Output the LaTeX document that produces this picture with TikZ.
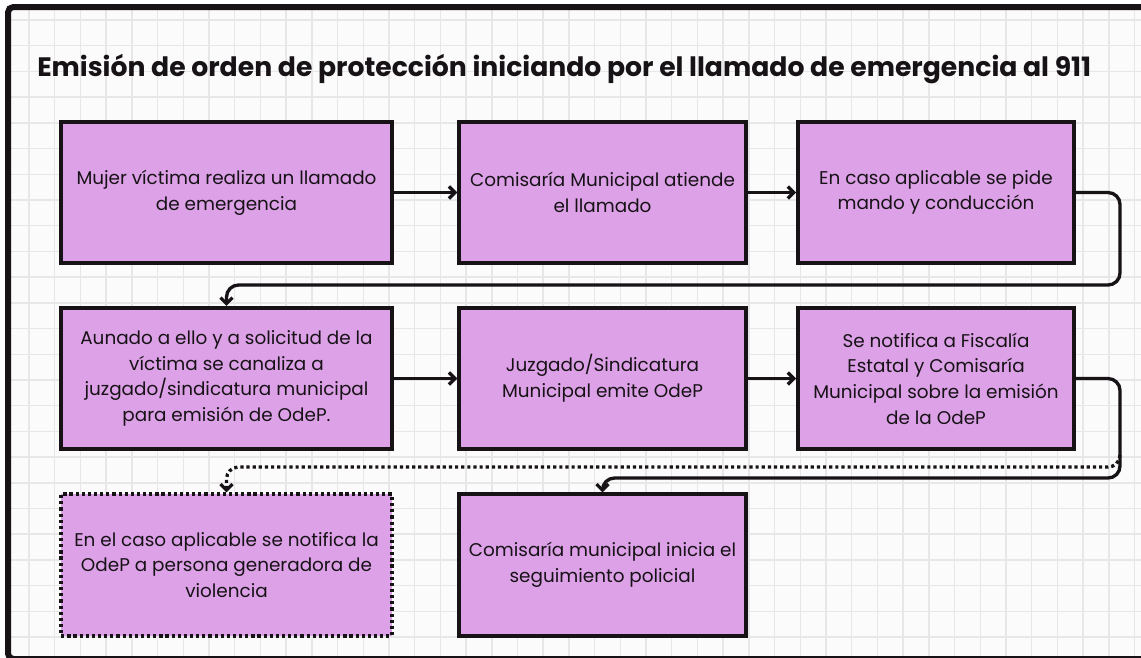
\documentclass[tikz,border=0pt]{standalone}
\usepackage{fontspec}
\setmainfont{Poppins}
\usetikzlibrary{positioning,arrows.meta,calc}
\definecolor{odepfill}{RGB}{221,161,231}
\definecolor{odepline}{RGB}{22,18,22}
\definecolor{odepgrid}{RGB}{231,231,231}
\definecolor{odeppaper}{RGB}{251,251,251}
\tikzset{
    odep step/.style={
        rectangle,
        fill=odepfill,
        draw=odepline,
        line width=2.8pt,
        minimum height=106pt,
        inner sep=0pt,
        align=center,
        text=odepline,
        font=\fontsize{13.8}{19.2}\selectfont
    },
    col one/.style={minimum width=248pt},
    col two/.style={minimum width=215pt},
    col three/.style={minimum width=207pt},
    odep dots/.style={dash pattern=on 2.4pt off 2.2pt},
    odep optional/.style={odep step, odep dots},
    odep arrow/.style={
        draw=odepline,
        line width=2.5pt,
        rounded corners=9pt,
        -{Straight Barb[length=4.5pt,width=9pt]}
    },
    odep grid/.style={draw=odepgrid, line width=1.1pt},
    odep frame/.style={draw=odepline, line width=4.5pt, rounded corners=4pt}
}

\begin{document}
\begin{tikzpicture}[x=0.75pt,y=-0.75pt]
    \useasboundingbox (0,0) rectangle (1141,657);
    %Paper with grid, cut by the frame
    \begin{scope}
        \clip[rounded corners=4pt] (8,7) rectangle (1200,659);
        \fill[odeppaper] (8,7) rectangle (1200,659);
        \foreach \i in {0,...,43} {
            \draw[odep grid] (29+25.71*\i,0) -- ++(0,700);
        }
        \foreach \j in {0,...,25} {
            \draw[odep grid] (0,20+25.71*\j) -- ++(1200,0);
        }
    \end{scope}
    \draw[odep frame] (8,7) rectangle (1200,659);

    \node[anchor=base west, inner sep=0pt, text=odepline, font=\bfseries\fontsize{20}{24}\selectfont] (title) at (37,76) {Emisión de orden de protección iniciando por el llamado de emergencia al 911};

    %First row
    \node[odep step, col one] (llamado) at (226.5,192.5) {Mujer víctima realiza un llamado\\de emergencia};
    \node[odep step, col two] (atiende) at (602.5,192.5) {Comisaría Municipal atiende\\el llamado};
    \node[odep step, col three] (mando) at (936,192.5) {En caso aplicable se pide\\mando y conducción};

    %Second row
    \node[odep step, col one] (aunado) at (226.5,378.5) {Aunado a ello y a solicitud de la\\víctima se canaliza a\\juzgado/sindicatura municipal\\para emisión de OdeP.};
    \node[odep step, col two] (emite) at (602.5,378.5) {Juzgado/Sindicatura\\Municipal emite OdeP};
    \node[odep step, col three] (notifica) at (936,378.5) {Se notifica a Fiscalía\\Estatal y Comisaría\\Municipal sobre la emisión\\de la OdeP};

    %Third row
    \node[odep optional, col one] (persona) at (226.5,565) {En el caso aplicable se notifica la\\OdeP a persona generadora de\\violencia};
    \node[odep step, col two] (seguimiento) at (602.5,565) {Comisaría municipal inicia el\\seguimiento policial};

    \draw[odep arrow] (llamado) -- (atiende);
    \draw[odep arrow] (atiende) -- (mando);
    \draw[odep arrow] (aunado) -- (emite);
    \draw[odep arrow] (emite) -- (notifica);

    \coordinate (bend1) at (1120,285);
    \coordinate (bend2) at (1120,478);
    \coordinate (split) at (1120,455);
    \coordinate (dotturn) at (600,467);
    \draw[odep arrow] (mando.east) -| (bend1) -| (aunado.north);
    \draw[odep arrow] (notifica.east) -| (bend2) -| (seguimiento.north);
    \draw[odep arrow, odep dots] (split) |- (dotturn) -| (persona.north);
\end{tikzpicture}
\end{document}
